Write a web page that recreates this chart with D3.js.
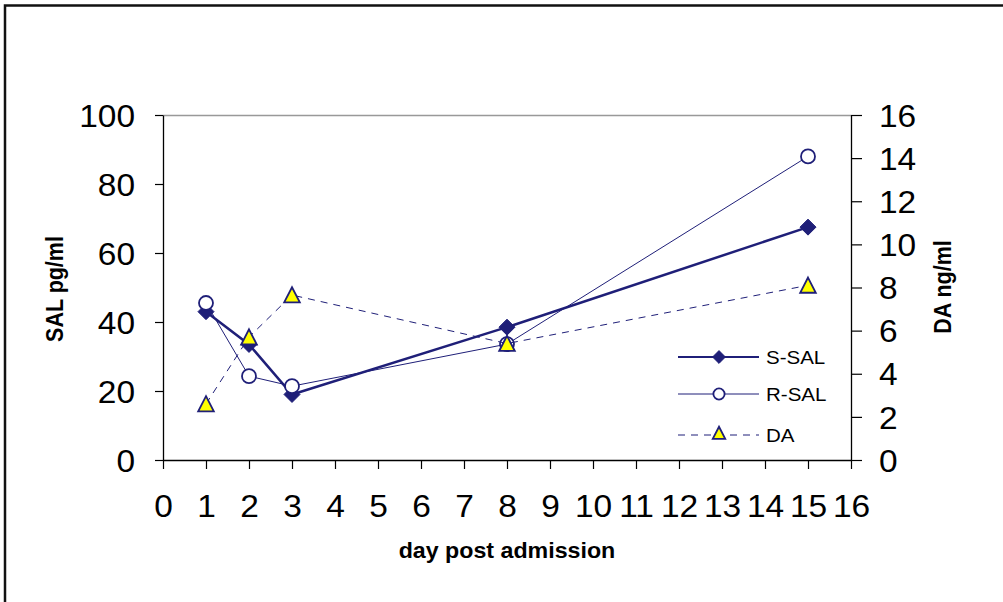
<!DOCTYPE html>
<html>
<head>
<meta charset="utf-8">
<script src="https://cdn.jsdelivr.net/npm/d3@7"></script>
<style>
  html, body { margin: 0; padding: 0; background: #fff; }
  svg { display: block; font-family: Arial, "Liberation Sans", sans-serif; }
</style>
</head>
<body>
<svg id="chart" width="1003" height="602"></svg>
<script>
// Days after admission and measured concentrations
const days = [1, 2, 3, 8, 15];
const sSal = [43, 33.5, 19, 38.5, 67.5];   // pg/ml, left axis
const rSal = [45.5, 24.3, 21.4, 33.6, 88]; // pg/ml, left axis
const da   = [2.6, 5.7, 7.65, 5.4, 8.1];   // ng/ml, right axis

const xTicks = d3.range(0, 17, 1);
const yLeftTicks = [0, 20, 40, 60, 80, 100];
const yRightTicks = [0, 2, 4, 6, 8, 10, 12, 14, 16];

const navy = "#1f1f78";
const yellow = "#ffff00";
const SX = 1.08; // slight horizontal widening of the lettering

const svg = d3.select("#chart");

// outer frame (extends past the right and bottom edges)
svg.append("rect")
  .attr("x", 5).attr("y", 5.5)
  .attr("width", 1100).attr("height", 700)
  .attr("fill", "none").attr("stroke", "#111").attr("stroke-width", 2.5);

const plotL = 163, plotR = 851, plotT = 115, plotB = 460;

const x = d3.scaleLinear().domain([0, 16]).range([plotL, plotR]);
const yL = d3.scaleLinear().domain([0, 100]).range([plotB, plotT]);
const yR = d3.scaleLinear().domain([0, 16]).range([plotB, plotT]);

// plot area top edge
svg.append("line")
  .attr("x1", plotL).attr("x2", plotR)
  .attr("y1", plotT + 0.5).attr("y2", plotT + 0.5)
  .attr("stroke", "#999").attr("stroke-width", 1.5);

function styleAxis(g, size) {
  g.select(".domain").attr("stroke", "#000").attr("stroke-width", 1.3);
  g.selectAll(".tick line").attr("stroke", "#000").attr("stroke-width", 1.2);
  g.selectAll(".tick text")
    .attr("fill", "#000")
    .style("font-size", size + "px")
    .style("font-family", "Arial, 'Liberation Sans', sans-serif")
    .each(function () {
      const t = d3.select(this);
      const tx = +t.attr("x") || 0;
      t.attr("x", tx / SX).attr("transform", `scale(${SX},1)`);
    });
}

// x axis
const gx = svg.append("g")
  .attr("transform", `translate(0,${plotB})`)
  .call(d3.axisBottom(x).tickValues(xTicks).tickSize(9).tickPadding(26).tickSizeOuter(0));
styleAxis(gx, 31);

// left axis
const gyl = svg.append("g")
  .attr("transform", `translate(${plotL},0)`)
  .call(d3.axisLeft(yL).tickValues(yLeftTicks).tickSize(8).tickPadding(20).tickSizeOuter(0));
gyl.selectAll(".tick text").attr("dy", "0.36em");
styleAxis(gyl, 31);

// right axis
const gyr = svg.append("g")
  .attr("transform", `translate(${plotR},0)`)
  .call(d3.axisRight(yR).tickValues(yRightTicks).tickSize(11).tickPadding(17).tickSizeOuter(0));
gyr.selectAll(".tick text").attr("dy", "0.36em");
styleAxis(gyr, 31);

// axis titles
svg.append("text")
  .attr("transform", `translate(507,558) scale(${SX},1)`)
  .attr("text-anchor", "middle")
  .style("font-size", "21.5px").style("font-weight", "bold")
  .text("day post admission");

svg.append("text")
  .attr("transform", `translate(63,289) scale(${SX},1) rotate(-90)`)
  .attr("text-anchor", "middle")
  .style("font-size", "21.5px").style("font-weight", "bold")
  .text("SAL pg/ml");

svg.append("text")
  .attr("transform", `translate(951,287) scale(${SX},1) rotate(-90)`)
  .attr("text-anchor", "middle")
  .style("font-size", "21.5px").style("font-weight", "bold")
  .text("DA ng/ml");

function diamondPath(s) {
  return `M0,${-s}L${s},0L0,${s}L${-s},0Z`;
}
function trianglePath(s) {
  return `M0,${-s}L${s},${s * 0.95}L${-s},${s * 0.95}Z`;
}

const series = [
  { name: "S-SAL", vals: sSal, y: yL, width: 2.5, dash: null, marker: "diamond" },
  { name: "R-SAL", vals: rSal, y: yL, width: 1, dash: null, marker: "circle" },
  { name: "DA", vals: da, y: yR, width: 1, dash: "7,6", marker: "triangle" }
];

function drawMarker(g, type, k) {
  if (type === "diamond") {
    g.append("path").attr("d", diamondPath(8 * k)).attr("fill", navy).attr("stroke", navy).attr("stroke-width", 1);
  } else if (type === "circle") {
    g.append("circle").attr("r", 7 * k).attr("fill", "#fff").attr("stroke", navy).attr("stroke-width", 1.8);
  } else {
    g.append("path").attr("d", trianglePath(7.8 * k)).attr("fill", yellow).attr("stroke", navy).attr("stroke-width", 1.8)
      .attr("stroke-linejoin", "miter");
  }
}

series.forEach(s => {
  const pts = days.map((d, i) => [x(d), s.y(s.vals[i])]);
  svg.append("path")
    .attr("d", d3.line()(pts))
    .attr("fill", "none")
    .attr("stroke", navy)
    .attr("stroke-width", s.width)
    .attr("stroke-dasharray", s.dash);
  pts.forEach(p => {
    const g = svg.append("g").attr("transform", `translate(${p[0]},${p[1]})`);
    drawMarker(g, s.marker, 1);
  });
});

// legend
const legendRows = [357, 394, 435];
series.forEach((s, i) => {
  const yy = legendRows[i];
  svg.append("line")
    .attr("x1", 678).attr("x2", 759)
    .attr("y1", yy).attr("y2", yy)
    .attr("stroke", navy)
    .attr("stroke-width", s.width === 2.5 ? 2.2 : 1)
    .attr("stroke-dasharray", s.dash);
  const g = svg.append("g").attr("transform", `translate(719,${s.marker === "triangle" ? yy - 2 : yy})`);
  drawMarker(g, s.marker, 0.8);
  svg.append("text")
    .attr("transform", `translate(766,${yy + 6.5}) scale(${SX},1)`)
    .style("font-size", "19px")
    .text(s.name);
});
</script>
</body>
</html>
